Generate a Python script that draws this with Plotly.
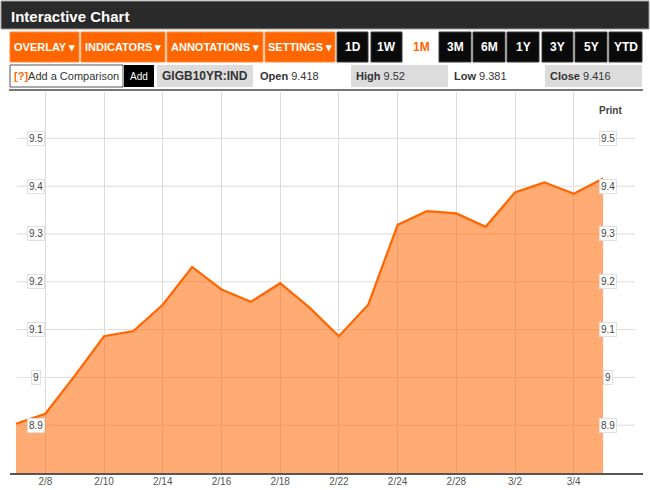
import plotly.graph_objects as go

# ---- data ----
dates = ["2/7", "2/8", "2/9", "2/10", "2/13", "2/14", "2/15", "2/16", "2/17", "2/18",
         "2/21", "2/22", "2/23", "2/24", "2/27", "2/28", "3/1", "3/2", "3/3", "3/4", "3/5"]
values = [8.903, 8.924, 9.003, 9.086, 9.097, 9.152, 9.231, 9.184, 9.158, 9.197,
          9.146, 9.086, 9.152, 9.319, 9.348, 9.343, 9.315, 9.387, 9.408, 9.384, 9.416]
x_tick_labels = ["2/8", "2/10", "2/14", "2/16", "2/18", "2/22", "2/24", "2/28", "3/2", "3/4"]
y_ticks = [8.9, 9.0, 9.1, 9.2, 9.3, 9.4, 9.5]
y_tick_labels = ["8.9", "9", "9.1", "9.2", "9.3", "9.4", "9.5"]

symbol = "GIGB10YR:IND"
stats = [("Open", "9.418"), ("High", "9.52"), ("Low", "9.381"), ("Close", "9.416")]
range_buttons = ["1D", "1W", "1M", "3M", "6M", "1Y", "3Y", "5Y", "YTD"]
menu_buttons = ["OVERLAY ▾", "INDICATORS ▾", "ANNOTATIONS ▾", "SETTINGS ▾"]

# ---- layout geometry (pixels) ----
W, H = 650, 490
L, R, T, B = 10, 643, 92, 473


def px(x):
    return (x - L) / (R - L)


def py(y):
    return (B - y) / (B - T)


ORANGE = "#FF6600"
FONT = "Liberation Sans, Arial, sans-serif"
NARROW = "Liberation Sans Narrow, Arial Narrow, Liberation Sans, Arial, sans-serif"

fig = go.Figure()
fig.add_trace(go.Scatter(
    x=dates, y=values, mode="lines",
    line=dict(color=ORANGE, width=2.2),
    fill="tozeroy", fillcolor="rgba(255,102,0,0.55)",
    hoverinfo="x+y", showlegend=False,
))

shapes = []
annots = []


def rect(x0, y0, x1, y1, fill, line=None, lw=1):
    shapes.append(dict(type="rect", xref="paper", yref="paper",
                       x0=px(x0), x1=px(x1), y0=py(y0), y1=py(y1),
                       fillcolor=fill, line=dict(color=line or fill, width=lw if line else 0),
                       layer="above"))


def text(x, y, s, size=11, color="#fff", family=FONT, xanchor="center", bold=False):
    if bold:
        s = "<b>" + s + "</b>"
    annots.append(dict(xref="paper", yref="paper", x=px(x), y=py(y), text=s,
                       showarrow=False, xanchor=xanchor, yanchor="middle",
                       font=dict(size=size, color=color, family=family)))


# header bar
rect(1, 1, 649, 29, "#2a2a2a", "#9a9a9a", 1)
text(9, 16, "Interactive Chart", size=15, color="#ffffff", xanchor="left", bold=True)

# toolbar: menu buttons
menu_pos = [(10, 79), (81, 165), (167, 263), (265, 335)]
for (a, b), lab in zip(menu_pos, menu_buttons):
    rect(a, 32, b, 62, ORANGE, "#ff8a3d", 1)
    text((a + b) / 2, 47, lab, size=11, color="#ffffff", family=NARROW, bold=True)

range_pos = [(337, 368), (371, 402), (405, 437), (439, 471), (473, 505),
             (507, 539), (542, 573), (575, 607), (609, 642)]
for (a, b), lab in zip(range_pos, range_buttons):
    if lab == "1M":
        text((a + b) / 2, 47, lab, size=12, color=ORANGE, family=NARROW, bold=True)
    else:
        rect(a, 32, b, 62, "#0a0a0a", "#3a3a3a", 1)
        text((a + b) / 2, 47, lab, size=12, color="#ffffff", family=NARROW, bold=True)

# second row
rect(10, 65, 123, 87, "#ffffff", "#555555", 1)
text(12, 76, "<span style='color:#FF6600'><b>[?]</b></span>Add a Comparison",
     size=11, color="#333333", xanchor="left")
rect(124, 65, 154, 87, "#000000")
text(139, 76, "Add", size=10, color="#ffffff")
rect(157, 65, 253, 87, "#dcdcdc")
text(205, 76, symbol, size=12, color="#333333", bold=True)
stat_pos = [(255, 350, False), (351, 448, True), (449, 544, False), (545, 642, True)]
for (lab, val), (a, b, boxed) in zip(stats, stat_pos):
    if boxed:
        rect(a, 65, b, 87, "#dcdcdc")
    text(a + 3, 76, "<b>" + lab + "</b> " + val, size=11, color="#333333", xanchor="left")

# separator line
shapes.append(dict(type="line", xref="paper", yref="paper", x0=px(9), x1=px(643),
                   y0=py(90), y1=py(90), line=dict(color="#777777", width=2), layer="above"))

# horizontal grid lines (data y from tick array)
for v in y_ticks:
    shapes.append(dict(type="line", xref="paper", yref="y", x0=px(17), x1=px(635),
                       y0=v, y1=v, line=dict(color="#dcdcdc", width=1), layer="below"))

# y labels both sides
for v, lab in zip(y_ticks, y_tick_labels):
    for xc in (36, 608):
        annots.append(dict(xref="paper", yref="y", x=px(xc), y=v, text=lab,
                           showarrow=False, xanchor="center", yanchor="middle",
                           bgcolor="#ffffff", bordercolor="#e0e0e0", borderwidth=1,
                           borderpad=1, font=dict(size=10, color="#444444", family=FONT)))

text(610, 110, "Print", size=10, color="#444444", bold=True)

fig.update_layout(
    width=W, height=H, autosize=False,
    margin=dict(l=L, r=W - R, t=T, b=H - B, pad=0, autoexpand=False),
    paper_bgcolor="#ffffff", plot_bgcolor="#ffffff",
    shapes=shapes, annotations=annots,
    xaxis=dict(type="category", range=[-0.204, 21.36], automargin=False,
               tickmode="array", tickvals=x_tick_labels, ticktext=x_tick_labels,
               showgrid=True, gridcolor="#dcdcdc", gridwidth=1,
               showline=True, linecolor="#555555", linewidth=1.5,
               ticks="", ticklabelstandoff=-2,
               tickfont=dict(size=10, color="#555555", family=FONT),
               zeroline=False, fixedrange=True),
    yaxis=dict(range=[8.8, 9.597], showgrid=False, showticklabels=False, automargin=False,
               zeroline=False, showline=False, ticks="", fixedrange=True),
    font=dict(family=FONT),
)

fig.write_html("out.html", config={"displayModeBar": False},
               post_script="document.body.style.margin='0px';document.body.style.padding='0px';")
